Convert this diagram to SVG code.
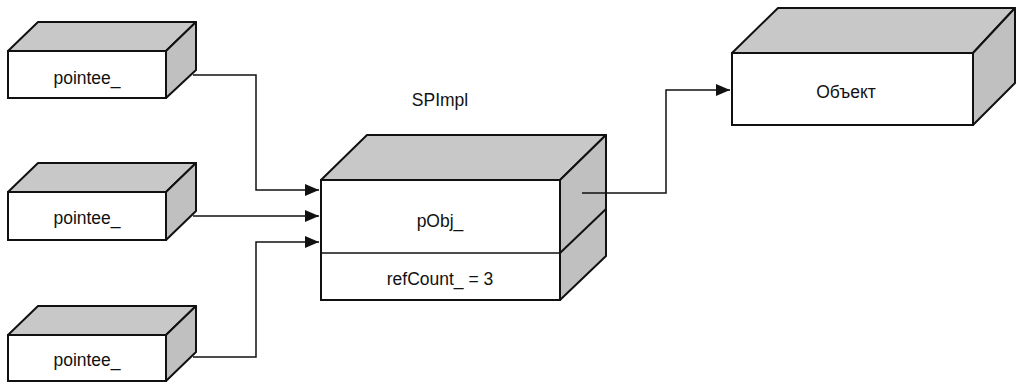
<svg xmlns="http://www.w3.org/2000/svg" width="1016" height="382" viewBox="0 0 1016 382">
<style>
.front{fill:#fff;stroke:#111;stroke-width:2}
.top{fill:#c8c8c8;stroke:#111;stroke-width:2;stroke-linejoin:round}
.side{fill:#c0c0c0;stroke:#111;stroke-width:2;stroke-linejoin:round}
.ln{fill:none;stroke:#111;stroke-width:1.5}
.t{font-family:"Liberation Sans Narrow","Liberation Sans",Arial,sans-serif;font-size:17.5px;fill:#111;text-anchor:middle}
</style>
<defs>
<marker id="ah" viewBox="0 0 14 12" refX="14" refY="6" markerWidth="14" markerHeight="12" markerUnits="userSpaceOnUse" orient="auto">
<path d="M0,0 L14,6 L0,12 Z" fill="#111"/>
</marker>
</defs>
<g id="pointee1">
<polygon class="top" points="8,51 38,22 196,22 166,51"/>
<polygon class="side" points="166,51 196,22 196,70 166,98"/>
<rect class="front" x="8" y="51" width="158" height="47"/>
<text class="t" x="87" y="84">pointee_</text>
</g>
<g id="pointee2">
<polygon class="top" points="8,192 38,163 196,163 166,192"/>
<polygon class="side" points="166,192 196,163 196,211 166,240"/>
<rect class="front" x="8" y="192" width="158" height="48"/>
<text class="t" x="87" y="224">pointee_</text>
</g>
<g id="pointee3">
<polygon class="top" points="8,335 38,306 196,306 166,335"/>
<polygon class="side" points="166,335 196,306 196,352 166,381"/>
<rect class="front" x="8" y="335" width="158" height="46"/>
<text class="t" x="87" y="366">pointee_</text>
</g>
<g id="spimpl">
<text class="t" x="440" y="106">SPImpl</text>
<polygon class="top" points="321,180 367,135 606,135 560,180"/>
<polygon class="side" points="560,180 606,135 606,256 560,300"/>
<line class="ln" x1="560" y1="253" x2="606" y2="209" style="stroke-width:2"/>
<rect class="front" x="321" y="180" width="239" height="120"/>
<line class="ln" x1="321" y1="253" x2="560" y2="253"/>
<text class="t" x="440" y="227">pObj_</text>
<text class="t" x="440" y="285">refCount_ = 3</text>
</g>
<g id="object">
<polygon class="top" points="732,53 778,8 1015,8 973,53"/>
<polygon class="side" points="973,53 1015,8 1015,83 973,125"/>
<rect class="front" x="732" y="53" width="241" height="72"/>
<text class="t" x="846" y="98">Объект</text>
</g>
<g id="connectors">
<polyline class="ln" points="193,75 256,75 256,190 319,190" marker-end="url(#ah)"/>
<polyline class="ln" points="193,216 319,216" marker-end="url(#ah)"/>
<polyline class="ln" points="193,357 256,357 256,242 319,242" marker-end="url(#ah)"/>
<polyline class="ln" points="582,193 666,193 666,90 730,90" marker-end="url(#ah)"/>
</g>
</svg>
